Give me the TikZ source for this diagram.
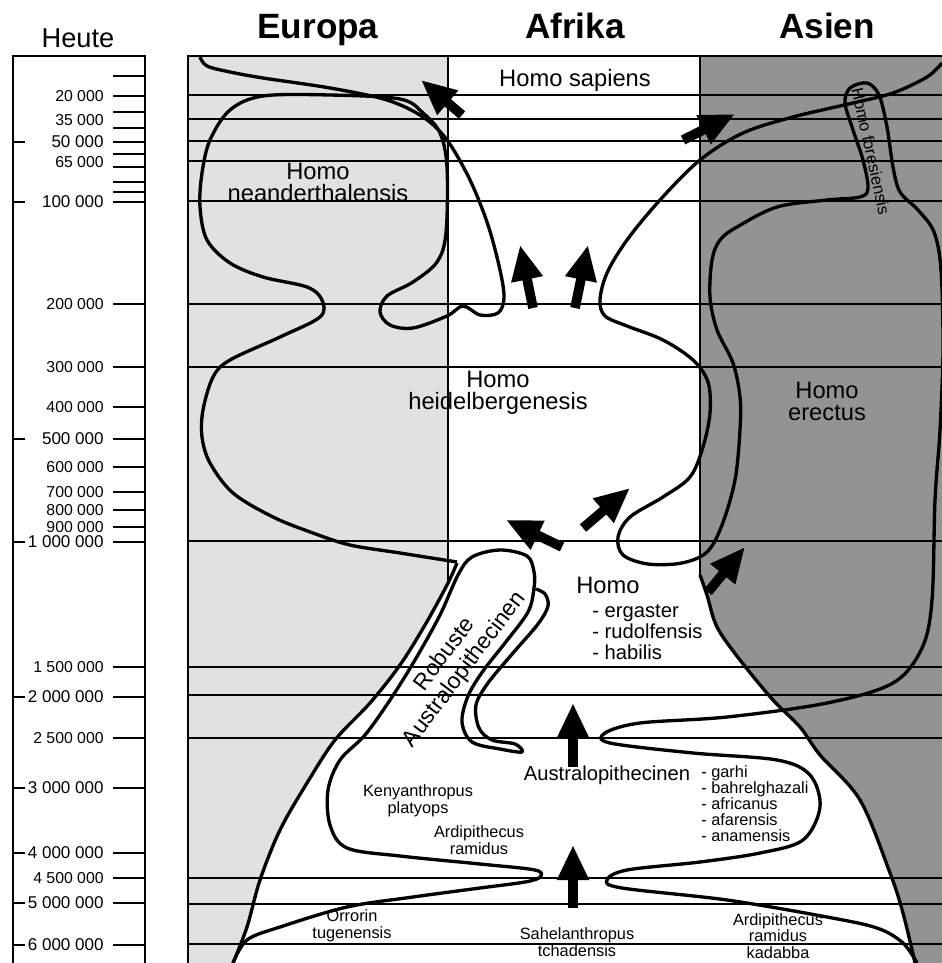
\documentclass[tikz,border=0pt]{standalone}
\usepackage{fontspec}
\setmainfont{Liberation Sans}
\usetikzlibrary{arrows.meta}
\definecolor{eurogray}{HTML}{E1E1E1}
\definecolor{asiagray}{HTML}{939393}
\begin{document}
\begin{tikzpicture}[x=0.02cm, y=-0.02cm,
    epochline/.style={line width=1.2pt},
    scaleframe/.style={line width=1.7pt},
    scaletick/.style={line width=1.4pt},
    lineage/.style={line width=1.9pt, line join=round},
    migr/.style={line width=5.5pt, -{Triangle[width=17pt,length=20pt]}},
    scal/.style={font=\fontsize{9}{9}\selectfont, anchor=east, inner sep=0pt},
    scalbig/.style={font=\fontsize{9.7}{9.7}\selectfont, anchor=east, inner sep=0pt},
    region/.style={font=\bfseries\fontsize{20}{20}\selectfont, inner sep=0pt, anchor=base},
    taxon/.style={font=\fontsize{13.5}{12.5}\selectfont, align=center, inner sep=0pt},
    sublist/.style={font=\fontsize{11.5}{12}\selectfont, align=left, inner sep=0pt, anchor=west},
    small/.style={font=\fontsize{9.3}{9.5}\selectfont, align=center, inner sep=0pt}
  ]
  \useasboundingbox (0,0) rectangle (942,963);
  \clip (0,0) rectangle (942,963);

  % continents
  \fill[eurogray] (188,56) rectangle (448,963);
  \fill[asiagray] (700,56) rectangle (942,963);
  \fill[white] plot[smooth, tension=0.55] coordinates {(457,563) (447,585) (425,625) (400,665) (370,703) (335,740) (307,783) (280,830) (260,880) (247,927) (233,963)}
    -- plot[smooth, tension=0.55] coordinates {(915,963) (903,913) (890,873) (860,800) (820,755) (800,727) (773,700) (740,660) (717,627) (707,595) (700,575)}
    -- (700,555) -- (457,555) -- cycle;

  % epochs
  \foreach \y in {95,119,141,161,201,304,367,541,667,695,738,878,904,944}
    \draw[epochline] (188,\y) -- (942,\y);
  \draw[epochline] (188,963) -- (188,56) -- (942,56);
  \draw[epochline] (448,56) -- (448,583);
  \draw[epochline] (700,56) -- (700,577);

  % borders of the continents
  \draw[lineage] plot[smooth, tension=0.55] coordinates {(457,563) (447,585) (425,625) (400,665) (370,703) (335,740) (307,783) (280,830) (260,880) (247,927) (233,963)};
  \draw[lineage] plot[smooth, tension=0.55] coordinates {(700,575) (707,595) (717,627) (740,660) (773,700) (800,727) (820,755) (860,800) (890,873) (903,913) (915,963)};

  % Europe: sapiens, neanderthalensis
  \draw[lineage] plot[smooth, tension=0.55] coordinates {(200,57) (207,66) (230,72) (263,78) (330,88) (387,100) (423,117) (447,140) (470,180) (488,225) (500,270) (504,298) (498,313) (480,315) (463,306) (447,316) (413,328) (390,325) (380,312) (387,296) (413,282) (437,262) (446,233) (447,167) (440,133) (423,113) (400,99) (330,95) (263,96) (230,110) (210,140) (202,173) (200,207) (207,240) (230,263) (263,277) (307,287) (322,300) (320,317) (280,337) (230,360) (213,377) (203,410) (202,437) (210,463) (233,493) (273,517) (313,533) (350,545) (400,553) (457,562)};

  % Orrorin, Kenyanthropus, robust australopithecines
  \draw[lineage] plot[smooth, tension=0.55] coordinates {(233,963) (247,940) (280,927) (347,907) (413,897) (480,888) (525,882) (540,877) (535,870) (480,864) (400,856) (347,848) (330,825) (328,790) (340,760) (365,735) (390,700) (415,660) (440,615) (458,575) (472,557) (500,550) (527,556) (534,572) (534,588) (528,612) (505,643) (483,671) (468,696) (462,722) (472,742) (500,749) (522,752) (515,744) (492,740) (479,728) (476,705) (488,683) (513,653) (538,624) (548,606) (545,594) (536,589)};

  % Asia: sapiens, heidelbergensis, erectus, floresiensis, australopithecines
  \draw[lineage] plot[smooth, tension=0.55] coordinates {(942,63) (927,77) (893,93) (853,103) (793,117) (743,133) (700,160) (660,200) (627,240) (607,273) (600,300) (605,316) (627,326) (663,340) (693,360) (708,382) (710,413) (703,447) (690,477) (663,497) (630,517) (618,537) (623,555) (648,564) (682,563) (707,552) (722,525) (735,480) (740,430) (740,397) (733,363) (717,330) (710,297) (712,260) (720,240) (737,227) (777,207) (827,200) (860,197) (868,188) (863,160) (853,130) (845,103) (850,88) (867,83) (879,95) (887,127) (893,167) (900,192) (918,210) (934,232) (941,270) (943,350) (940,430) (935,500) (932,600) (922,648) (893,683) (827,703) (727,717) (640,723) (605,733) (610,743) (693,753) (777,760) (810,775) (820,807) (803,840) (760,853) (700,862) (627,870) (607,880) (622,888) (727,900) (827,917) (877,928) (903,943) (917,963)};

  % migrations
  \coordinate (m1t) at (462,115); \coordinate (m1h) at (421,80);
  \coordinate (m2t) at (683,140); \coordinate (m2h) at (735,114);
  \coordinate (m3t) at (533,308); \coordinate (m3h) at (520,245);
  \coordinate (m4t) at (575,308); \coordinate (m4h) at (588,245);
  \coordinate (m5t) at (562,547); \coordinate (m5h) at (506,520);
  \coordinate (m6t) at (583,528); \coordinate (m6h) at (630,488);
  \coordinate (m7t) at (708,592); \coordinate (m7h) at (745,547);
  \coordinate (m8t) at (573,767); \coordinate (m8h) at (573,703);
  \coordinate (m9t) at (573,908); \coordinate (m9h) at (573,845);
  \foreach \m in {1,...,9}
    \draw[migr] (m\m t) -- (m\m h);

  % time scale
  \draw[scaleframe] (13,963) -- (13,56) -- (145,56) -- (145,963);
  \foreach \y in {76,96,112,128,142,154,167,182,192,202,304,367,407,439,467,492,510,527,542,667,697,738,788,853,878,903,945}
    \draw[scaletick] (113,\y) -- (145,\y);
  \foreach \y in {142,202,439,542,697,788,853,903,945}
    \draw[scaletick] (13,\y) -- (25,\y);
  \foreach \y/\t in {96/20 000, 120/35 000, 162/65 000, 304/200 000, 367/300 000, 407/400 000, 467/600 000, 492/700 000, 510/800 000, 527/900 000, 667/1 500 000, 738/2 500 000, 878/4 500 000}
    \node[scal] (lab\y) at (104,\y) {\t};
  \foreach \y/\t in {142/50 000, 202/100 000, 439/500 000, 542/1 000 000, 697/2 000 000, 788/3 000 000, 853/4 000 000, 903/5 000 000, 945/6 000 000}
    \node[scalbig] (lab\y) at (104,\y) {\t};
  \node[font=\fontsize{15.5}{15.5}\selectfont, inner sep=0pt, anchor=base] (heute) at (78,48) {Heute};

  % continents and taxa
  \node[region] (eur) at (318,39) {Europa};
  \node[region] (afr) at (575,39) {Afrika};
  \node[region] (asi) at (827,39) {Asien};
  \node[taxon, anchor=base] (sap) at (575,87) {Homo sapiens};
  \node[taxon] (nea) at (318,182) {Homo\\neanderthalensis};
  \node[taxon] (hei) at (498,393) {Homo\\heidelbergenesis};
  \node[taxon] (ere) at (827,401) {Homo\\erectus};
  \node[font=\fontsize{9.5}{9.5}\selectfont, inner sep=0pt, rotate=-77.6] (flo) at (871,151) {Homo foresiensis};
  \node[taxon, font=\fontsize{13}{14}\selectfont, rotate=53] (rob) at (455,662) {Robuste\\Australopithecinen};
  \node[taxon, anchor=west] (hom) at (576,585) {Homo};
  \node[sublist] (homl) at (592,632) {- ergaster\\- rudolfensis\\- habilis};
  \node[taxon, font=\fontsize{11.5}{11.5}\selectfont] (aus) at (607,775) {Australopithecinen};
  \node[small, align=left, anchor=west, font=\fontsize{9.3}{9.1}\selectfont] (ausl) at (701,804) {- garhi\\- bahrelghazali\\- africanus\\- afarensis\\- anamensis};
  \node[small] (ken) at (418,801) {Kenyanthropus\\platyops};
  \node[small] (ard) at (479,840) {Ardipithecus\\ramidus};
  \node[small] (orr) at (352,926) {Orrorin\\tugenensis};
  \node[small] (sah) at (577,942) {Sahelanthropus\\tchadensis};
  \node[small] (kad) at (778,936) {Ardipithecus\\ramidus\\kadabba};
\end{tikzpicture}
\end{document}
